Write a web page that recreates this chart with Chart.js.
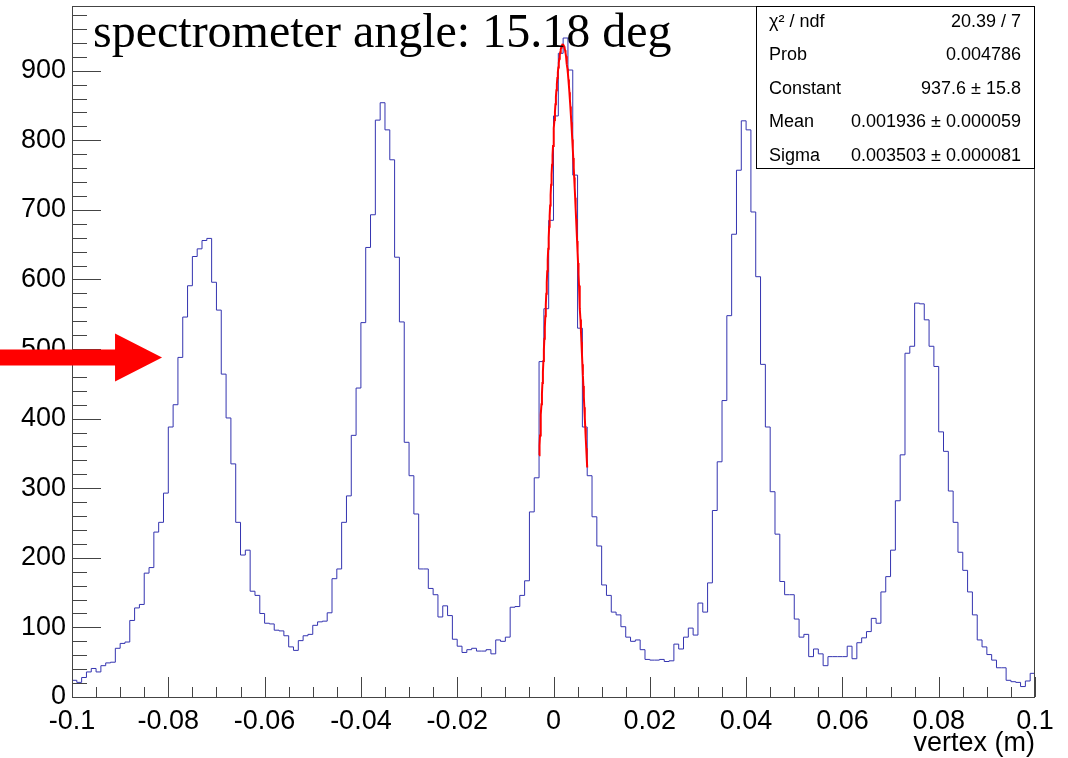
<!DOCTYPE html>
<html>
<head>
<meta charset="utf-8">
<title>vertex</title>
<script src="https://cdn.jsdelivr.net/npm/chart.js@4.4.1/dist/chart.umd.min.js"></script>
<style>
  html, body { margin: 0; padding: 0; background: #fff; }
  #wrap { width: 1068px; height: 758px; }
</style>
</head>
<body>
<div id="wrap"><canvas id="vertexChart" width="1068" height="758"></canvas></div>
<script>
// histogram binning: 200 bins of 1 mm between -0.1 and 0.1 m
const xMin = -0.1;
const xMax = 0.1;
const binWidth = 0.001;

// entries per bin, left to right
const counts = [
   24,  21,  28,  36,  41,  36,  45,  49,  50,  70,
   77,  79, 110, 128, 133, 178, 186, 237, 251, 293,
  388, 420, 488, 546, 591, 633, 644, 656, 659, 596,
  556, 464, 401, 335, 251, 204, 211, 152, 146, 120,
  106, 105,  96,  95,  88,  72,  67,  81,  88,  90,
  103, 108, 109, 121, 170, 184, 251, 289, 376, 444,
  538, 646, 693, 829, 854, 815, 772, 632, 539, 366,
  318, 263, 184, 184, 156, 147, 115, 131, 117,  83,
   73,  64,  68,  70,  66,  66,  68,  62,  82,  80,
   86, 129, 130, 146, 167, 266, 315, 482, 558, 685,
  835, 925, 947, 901, 750, 530, 388, 318, 259, 217,
  161, 146, 122, 118, 101,  86,  80,  82,  68,  54,
   53,  53,  54,  51,  52,  76,  69,  86,  99,  89,
  135, 122, 164, 268, 338, 426, 548, 665, 757, 828,
  815, 697, 604, 478, 388, 295, 234, 166, 147, 147,
  112,  86,  90,  58,  69,  62,  45,  58,  58,  58,
   58,  73,  55,  78,  85,  94, 113, 106, 151, 173,
  211, 282, 348, 494, 504, 566, 565, 542, 504, 475,
  381, 353, 296, 251, 208, 182, 151, 118,  82,  72,
   61,  53,  42,  42,  24,  22,  21,  15,  23,  34
];

const xTickValues = [-0.1, -0.08, -0.06, -0.04, -0.02, 0, 0.02, 0.04, 0.06, 0.08, 0.1];
const yTickValues = [0, 100, 200, 300, 400, 500, 600, 700, 800, 900];
const yMax = 993;

// gaussian fit to the central peak
const fitConstant = 937.6;
const fitMean = 0.001936;
const fitSigma = 0.003503;
const fitRange = [-0.003, 0.007];
const fitPoints = 100;

const statNames = ['\u03c7\u00b2 / ndf', 'Prob', 'Constant', 'Mean', 'Sigma'];
const statValues = ['20.39 / 7', '0.004786', '937.6 \u00b1 15.8', '0.001936 \u00b1 0.000059', '0.003503 \u00b1 0.000081'];

const titleText = 'spectrometer angle: 15.18 deg';
const axisTitle = 'vertex (m)';

// arrow marking the first foil
const arrowTip = { x: -0.0813, y: 488 };

const histColor = '#3434b0';
const fitColor = '#ff0000';
const sansFont = "'Liberation Sans', Arial, sans-serif";

const histPoints = counts.map((c, i) => ({ x: xMin + i * binWidth, y: c }));
histPoints.push({ x: xMax, y: counts[counts.length - 1] });

const fitCurve = [];
for (let i = 0; i <= fitPoints; i++) {
    const x = fitRange[0] + (fitRange[1] - fitRange[0]) * i / fitPoints;
    const t = (x - fitMean) / fitSigma;
    fitCurve.push({ x: x, y: fitConstant * Math.exp(-0.5 * t * t) });
}

// frame with ticks pointing inwards
const rootFrame = {
    id: 'rootFrame',
    afterDatasetsDraw(chart) {
        const { ctx, chartArea: a, scales: { x, y } } = chart;
        ctx.save();
        ctx.strokeStyle = '#444';
        ctx.lineWidth = 1;
        ctx.strokeRect(a.left + 0.5, a.top + 0.5, a.right - a.left - 1, a.bottom - a.top);
        ctx.beginPath();
        for (let v = 0; v <= yMax; v += 20) {
            const py = Math.round(y.getPixelForValue(v)) + 0.5;
            const len = (v % 100 === 0) ? 29 : 15;
            ctx.moveTo(a.left, py);
            ctx.lineTo(a.left + len, py);
        }
        for (let k = 0; k <= 40; k++) {
            const v = xMin + k * 0.005;
            const px = Math.round(x.getPixelForValue(v)) + 0.5;
            const len = (k % 4 === 0) ? 20 : 10;
            ctx.moveTo(px, a.bottom);
            ctx.lineTo(px, a.bottom - len);
        }
        ctx.stroke();
        ctx.restore();
    }
};

// title, fit statistics and arrow
const overlays = {
    id: 'overlays',
    afterDraw(chart) {
        const { ctx, chartArea: a, scales: { x, y } } = chart;
        ctx.save();

        ctx.fillStyle = '#000';
        ctx.font = "48px 'Liberation Serif', 'Times New Roman', serif";
        ctx.textBaseline = 'alphabetic';
        ctx.textAlign = 'left';
        ctx.fillText(titleText, a.left + 21, a.top + 41);

        const boxL = a.right - 279;
        const boxT = a.top;
        const boxB = a.top + 162;
        ctx.fillStyle = '#fff';
        ctx.fillRect(boxL, boxT, a.right - boxL, boxB - boxT);
        ctx.strokeStyle = '#000';
        ctx.lineWidth = 1;
        ctx.strokeRect(boxL + 0.5, boxT + 0.5, a.right - boxL - 1, boxB - boxT);
        ctx.fillStyle = '#000';
        ctx.font = '18px ' + sansFont;
        ctx.textBaseline = 'middle';
        statNames.forEach((name, i) => {
            const cy = boxT + 16 + 33.4 * i;
            ctx.textAlign = 'left';
            ctx.fillText(name, boxL + 13, cy);
            ctx.textAlign = 'right';
            ctx.fillText(statValues[i], a.right - 14, cy);
        });

        const tipX = x.getPixelForValue(arrowTip.x);
        const tipY = y.getPixelForValue(arrowTip.y);
        const headLen = 47, headHalf = 24, shaftHalf = 8;
        ctx.fillStyle = '#ff0000';
        ctx.beginPath();
        ctx.moveTo(0, tipY - shaftHalf);
        ctx.lineTo(tipX - headLen, tipY - shaftHalf);
        ctx.lineTo(tipX - headLen, tipY - headHalf);
        ctx.lineTo(tipX, tipY);
        ctx.lineTo(tipX - headLen, tipY + headHalf);
        ctx.lineTo(tipX - headLen, tipY + shaftHalf);
        ctx.lineTo(0, tipY + shaftHalf);
        ctx.closePath();
        ctx.fill();

        ctx.restore();
    }
};

const ctx = document.getElementById('vertexChart');
new Chart(ctx, {
    type: 'line',
    data: {
        datasets: [
            {
                label: 'fit',
                data: fitCurve,
                borderColor: fitColor,
                borderWidth: 2,
                pointRadius: 0,
                fill: false,
                tension: 0
            },
            {
                label: 'vertex',
                data: histPoints,
                stepped: 'before',
                borderColor: histColor,
                borderWidth: 1,
                pointRadius: 0,
                fill: false
            }
        ]
    },
    options: {
        responsive: false,
        animation: false,
        layout: { padding: { left: 0, right: 33, top: 6, bottom: 0 } },
        plugins: {
            legend: { display: false },
            tooltip: { enabled: false }
        },
        scales: {
            x: {
                type: 'linear',
                min: xMin,
                max: xMax,
                grid: { display: false, drawTicks: false },
                border: { display: false },
                afterBuildTicks: s => { s.ticks = xTickValues.map(v => ({ value: v })); },
                afterFit: s => { s.height = 61; },
                ticks: {
                    autoSkip: false,
                    maxRotation: 0,
                    padding: 8,
                    color: '#000',
                    font: { family: sansFont, size: 27 },
                    callback: v => String(Number(v.toFixed(2)))
                },
                title: {
                    display: true,
                    text: axisTitle,
                    align: 'end',
                    color: '#000',
                    font: { family: sansFont, size: 27, lineHeight: 1 },
                    padding: { top: 0, bottom: 1 }
                }
            },
            y: {
                min: 0,
                max: yMax,
                grid: { display: false, drawTicks: false },
                border: { display: false },
                afterBuildTicks: s => { s.ticks = yTickValues.map(v => ({ value: v })); },
                afterFit: s => { s.width = 72; s.paddingTop = 0; s.paddingBottom = 0; },
                ticks: {
                    padding: 6,
                    color: '#000',
                    font: { family: sansFont, size: 27 },
                    callback: v => String(v)
                }
            }
        }
    },
    plugins: [rootFrame, overlays]
});
</script>
</body>
</html>
